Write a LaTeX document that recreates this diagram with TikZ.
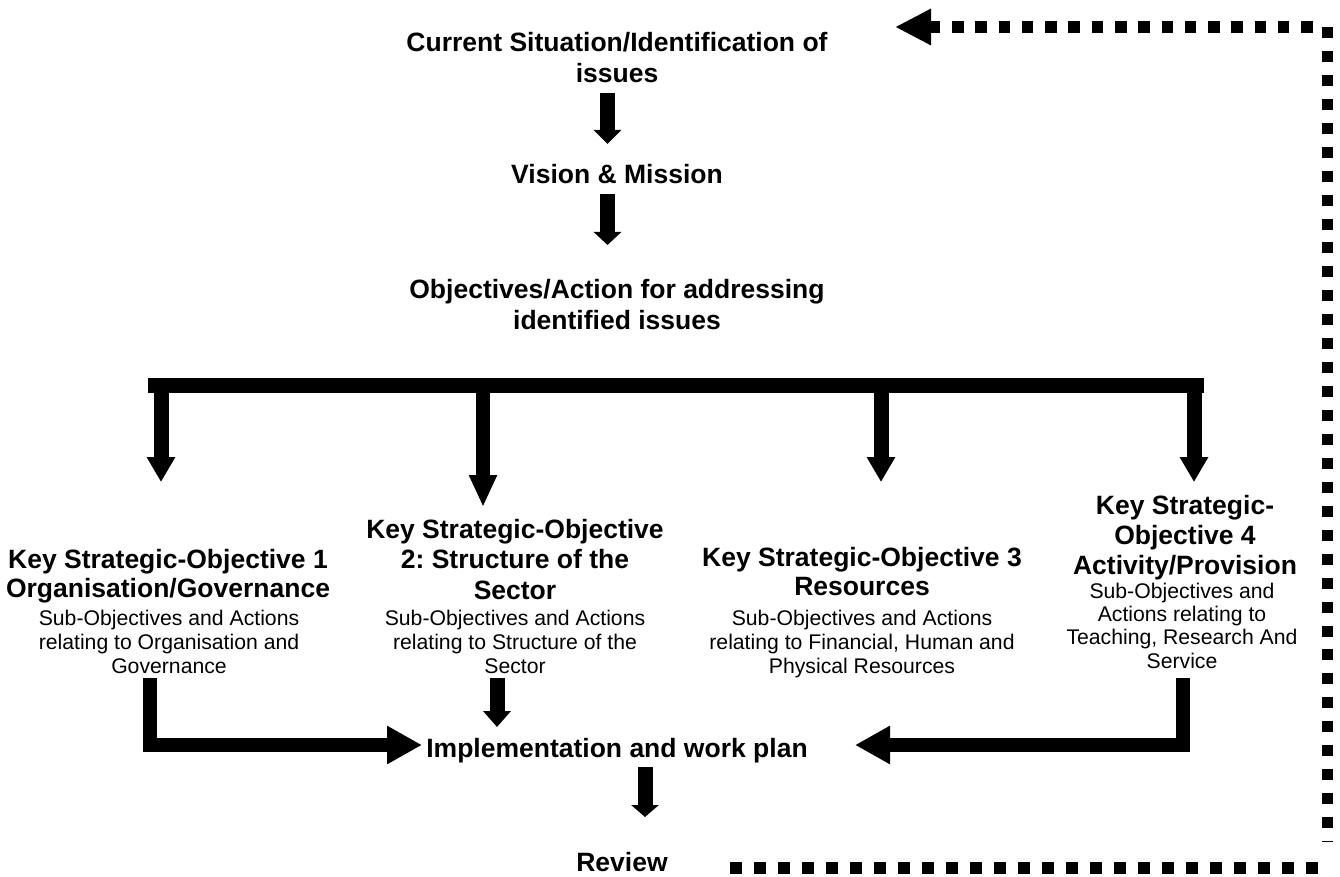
\documentclass[tikz,border=0pt]{standalone}
\usepackage{fontspec}
\setmainfont{Liberation Sans}
\usetikzlibrary{arrows.meta}
\frenchspacing
\begin{document}
\begin{tikzpicture}[x=1pt,y=-1pt,
  hd/.style={font=\bfseries\fontsize{26.5}{30.5}\selectfont, align=center, inner sep=0pt, anchor=north},
  sb/.style={font=\fontsize{21.2}{24}\selectfont, align=center, inner sep=0pt, anchor=north},
  blk/.style={line width=15pt, line cap=butt, -{Triangle[width=27pt,length=#1]}},
  blk/.default=14pt,
  barline/.style={line width=15.5pt, line cap=butt},
  elb/.style={line width=14pt, line cap=butt, line join=miter, -{Triangle[width=36pt,length=35pt]}},
  dotl/.style={line width=11.5pt, line cap=butt, dash pattern=on 11.5pt off 11.78pt},
  dotv/.style={line width=11pt, line cap=butt, dash pattern=on 11pt off 12.94pt},
  doth/.style={line width=11.5pt, line cap=butt, dash pattern=on 11.5pt off 12.5pt}
]
\useasboundingbox (0,0) rectangle (1340,877);

% text nodes
\node[hd, font=\bfseries\fontsize{26.5}{31}\selectfont] (t1) at (617,31.7) {Current Situation/Identification of\\issues};
\node[hd] (t2) at (617,163.7) {Vision \& Mission};
\node[hd, font=\bfseries\fontsize{26.5}{31}\selectfont] (t3) at (617,278.7) {Objectives/Action for addressing\\identified issues};

\node[hd, font=\bfseries\fontsize{26.5}{29}\selectfont] (h1) at (168,548.7) {Key Strategic-Objective 1\\Organisation/Governance};
\node[sb] (s1) at (169,609.7) {Sub-Objectives and Actions\\relating to Organisation and\\Governance};

\node[hd] (h2) at (515,518.7) {Key Strategic-Objective\\2: Structure of the\\Sector};
\node[sb] (s2) at (515,609.7) {Sub-Objectives and Actions\\relating to Structure of the\\Sector};

\node[hd, font=\bfseries\fontsize{26.5}{29}\selectfont] (h3) at (862,546.7) {Key Strategic-Objective 3\\Resources};
\node[sb] (s3) at (862,609.7) {Sub-Objectives and Actions\\relating to Financial, Human and\\Physical Resources};

\node[hd, font=\bfseries\fontsize{26.5}{30}\selectfont] (h4) at (1185,494.7) {Key Strategic-\\Objective 4\\Activity/Provision};
\node[sb, font=\fontsize{21.2}{23.3}\selectfont] (s4) at (1182,582.7) {Sub-Objectives and\\Actions relating to\\Teaching, Research And\\Service};

\node[hd] (t4) at (617,737.7) {Implementation and work plan};
\node[hd] (t5) at (622,852.5) {Review};

% coordinates for connectors
\coordinate (a1s) at (607.5,93);  \coordinate (a1e) at (607.5,144);
\coordinate (a2s) at (607.5,194); \coordinate (a2e) at (607.5,245);
\coordinate (bl) at (148,385.5);  \coordinate (br) at (1204,385.5);
\coordinate (d1s) at (161,385.5);  \coordinate (d1e) at (161,482);
\coordinate (d2s) at (483,385.5);  \coordinate (d2e) at (483,507);
\coordinate (d3s) at (881,385.5);  \coordinate (d3e) at (881,482);
\coordinate (d4s) at (1194,385.5); \coordinate (d4e) at (1194,482);
\coordinate (e1s) at (150,678);  \coordinate (e1e) at (422,745);
\coordinate (e2s) at (1183,678); \coordinate (e2e) at (855,745);
\coordinate (m1s) at (497,678);  \coordinate (m1e) at (497,727);
\coordinate (r1s) at (645,767);  \coordinate (r1e) at (645,817);
\coordinate (fbA) at (895,27);   \coordinate (fbB) at (1315,27);
\coordinate (fbC) at (1327.5,27); \coordinate (fbD) at (1327.5,842);
\coordinate (fbE) at (730,868);  \coordinate (fbF) at (1318,868);

% main flow
\draw[blk] (a1s) -- (a1e);
\draw[blk=13pt] (a2s) -- (a2e);
\draw[barline] (bl) -- (br);
\draw[blk=25pt] (d1s) -- (d1e);
\draw[line width=14pt, line cap=butt, -{Triangle[width=26pt,length=32pt]}] (d2s) -- (d2e);
\draw[blk=25pt] (d3s) -- (d3e);
\draw[blk=25pt] (d4s) -- (d4e);

\draw[elb] (e1s) |- (e1e);
\draw[elb] (e2s) |- (e2e);
\draw[blk=16pt] (m1s) -- (m1e);
\draw[blk=12pt] (r1s) -- (r1e);

% feedback dotted loop
\draw[dotl, {Triangle[width=34pt,length=36pt]}-] (fbA) -- (fbB);
\draw[dotv] (fbC) -- (fbD);
\draw[doth] (fbE) -- (fbF);
\end{tikzpicture}
\end{document}
